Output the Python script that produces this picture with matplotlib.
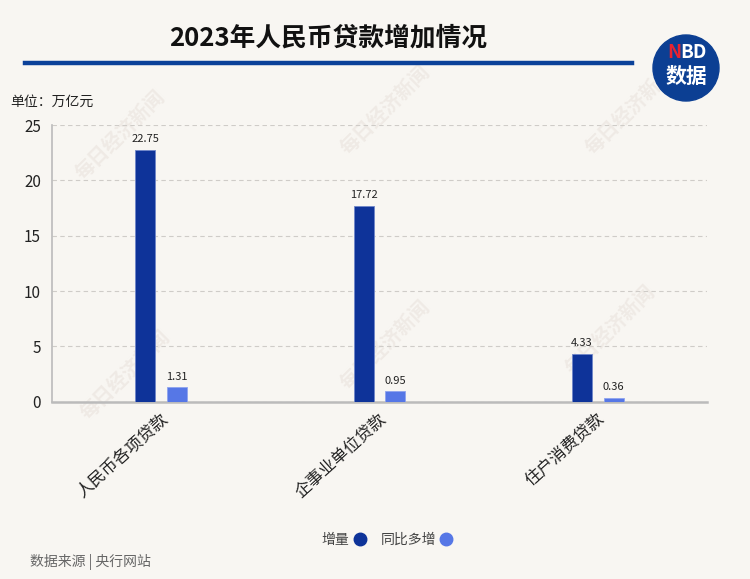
import numpy as np
import matplotlib.pyplot as plt
from matplotlib.patches import Circle
from matplotlib.lines import Line2D

plt.rcParams['font.family'] = ['Noto Sans CJK SC', 'DejaVu Sans']

categories = ["人民币各项贷款", "企事业单位贷款", "住户消费贷款"]
increase = [22.75, 17.72, 4.33]
yoy_more = [1.31, 0.95, 0.36]
series_names = ["增量", "同比多增"]
yticks = [0, 5, 10, 15, 20, 25]

bg = "#F8F6F2"
dark = "#0E3399"
light = "#5677E6"

W, H = 750, 579
fig = plt.figure(figsize=(W / 100, H / 100), dpi=100, facecolor=bg)


def fx(px):
    return px / W


def fy(py):
    return 1 - py / H


# watermarks
for cx, cy in [(120, 135), (385, 110), (630, 110), (125, 375), (385, 345), (610, 330)]:
    fig.text(fx(cx), fy(cy), "每日经济新闻", rotation=45, fontsize=14,
             fontweight="bold", color="#EFEAE5", ha="center", va="center",
             zorder=-1)

ax = fig.add_axes([fx(52), fy(401.7), fx(707) - fx(52), fy(125) - fy(401.7)])
ax.set_facecolor("none")

x = np.arange(len(categories))
bw = 0.092
off = 0.073
b1 = ax.bar(x - off, increase, bw, color=dark, edgecolor="#6F86C9", linewidth=0.6, zorder=3)
b2 = ax.bar(x + off, yoy_more, bw, color=light, edgecolor="#8FA3EE", linewidth=0.6, zorder=3)

for bars, vals in [(b1, increase), (b2, yoy_more)]:
    for rect, v in zip(bars, vals):
        ax.annotate(f"{v:.2f}", (rect.get_x() + rect.get_width() / 2, v),
                    xytext=(0, 4), textcoords="offset points", ha="center",
                    va="bottom", fontsize=8, color="#222222")

ax.set_xlim(-0.5, 2.5)
ax.set_ylim(0, 25)
ax.set_yticks(yticks)
ax.set_yticklabels([str(t) for t in yticks], fontsize=11, color="#222222")
ax.set_xticks(x)
ax.set_xticklabels([])
for xi, lab in zip(x, categories):
    ax.annotate(lab, (xi, 0), xycoords=("data", "axes fraction"),
                xytext=(3, -11), textcoords="offset points", rotation=42,
                rotation_mode="anchor", ha="right", va="center",
                fontsize=12, fontweight="light", color="#222222")
ax.tick_params(axis="both", length=0)
ax.tick_params(axis="y", pad=8)
ax.grid(axis="y", linestyle=(0, (4, 3)), color="#CFCCC8", linewidth=0.8, zorder=0)
for s in ["top", "right"]:
    ax.spines[s].set_visible(False)
ax.spines["left"].set_color("#BBBBBB")
ax.spines["left"].set_linewidth(1.2)
ax.spines["bottom"].set_color("#BBBBBB")
ax.spines["bottom"].set_linewidth(1.8)

# title and rule
fig.text(fx(328), fy(38), "2023年人民币贷款增加情况", fontsize=18.5, fontweight="bold",
         ha="center", va="center", color="#111111")
fig.add_artist(Line2D([fx(25), fx(632)], [fy(63), fy(63)], color="#0B4199",
                      linewidth=3.2, transform=fig.transFigure))

# logo
fig.add_artist(Circle((686, H - 68), 33, transform=None, color="#0C3F93", zorder=5))
fig.text(fx(674), fy(53), "N", fontsize=13.5, fontweight="bold", fontstyle="italic",
         color="#E8232F", ha="center", va="center", zorder=6)
fig.text(fx(693), fy(53), "BD", fontsize=13.5, fontweight="bold",
         color="white", ha="center", va="center", zorder=6)
fig.text(fx(686), fy(76), "数据", fontsize=15, fontweight="bold",
         color="white", ha="center", va="center", zorder=6)

# unit
fig.text(fx(10), fy(102), "单位：万亿元", fontsize=10, ha="left", va="center", color="#222222")

# legend
handles = [Line2D([], [], marker="o", linestyle="none", markersize=9, color=c)
           for c in [dark, light]]
fig.legend(handles, series_names, loc="center", bbox_to_anchor=(fx(388), fy(540)),
           ncol=2, frameon=False, markerfirst=False, fontsize=10,
           handletextpad=0.15, columnspacing=0.9, handlelength=1.2, labelcolor="#444444")

# source
fig.text(fx(30), fy(562), "数据来源 | 央行网站", fontsize=10, ha="left", va="center",
         color="#666666")

fig.savefig("out.png", dpi=100, facecolor=bg)
